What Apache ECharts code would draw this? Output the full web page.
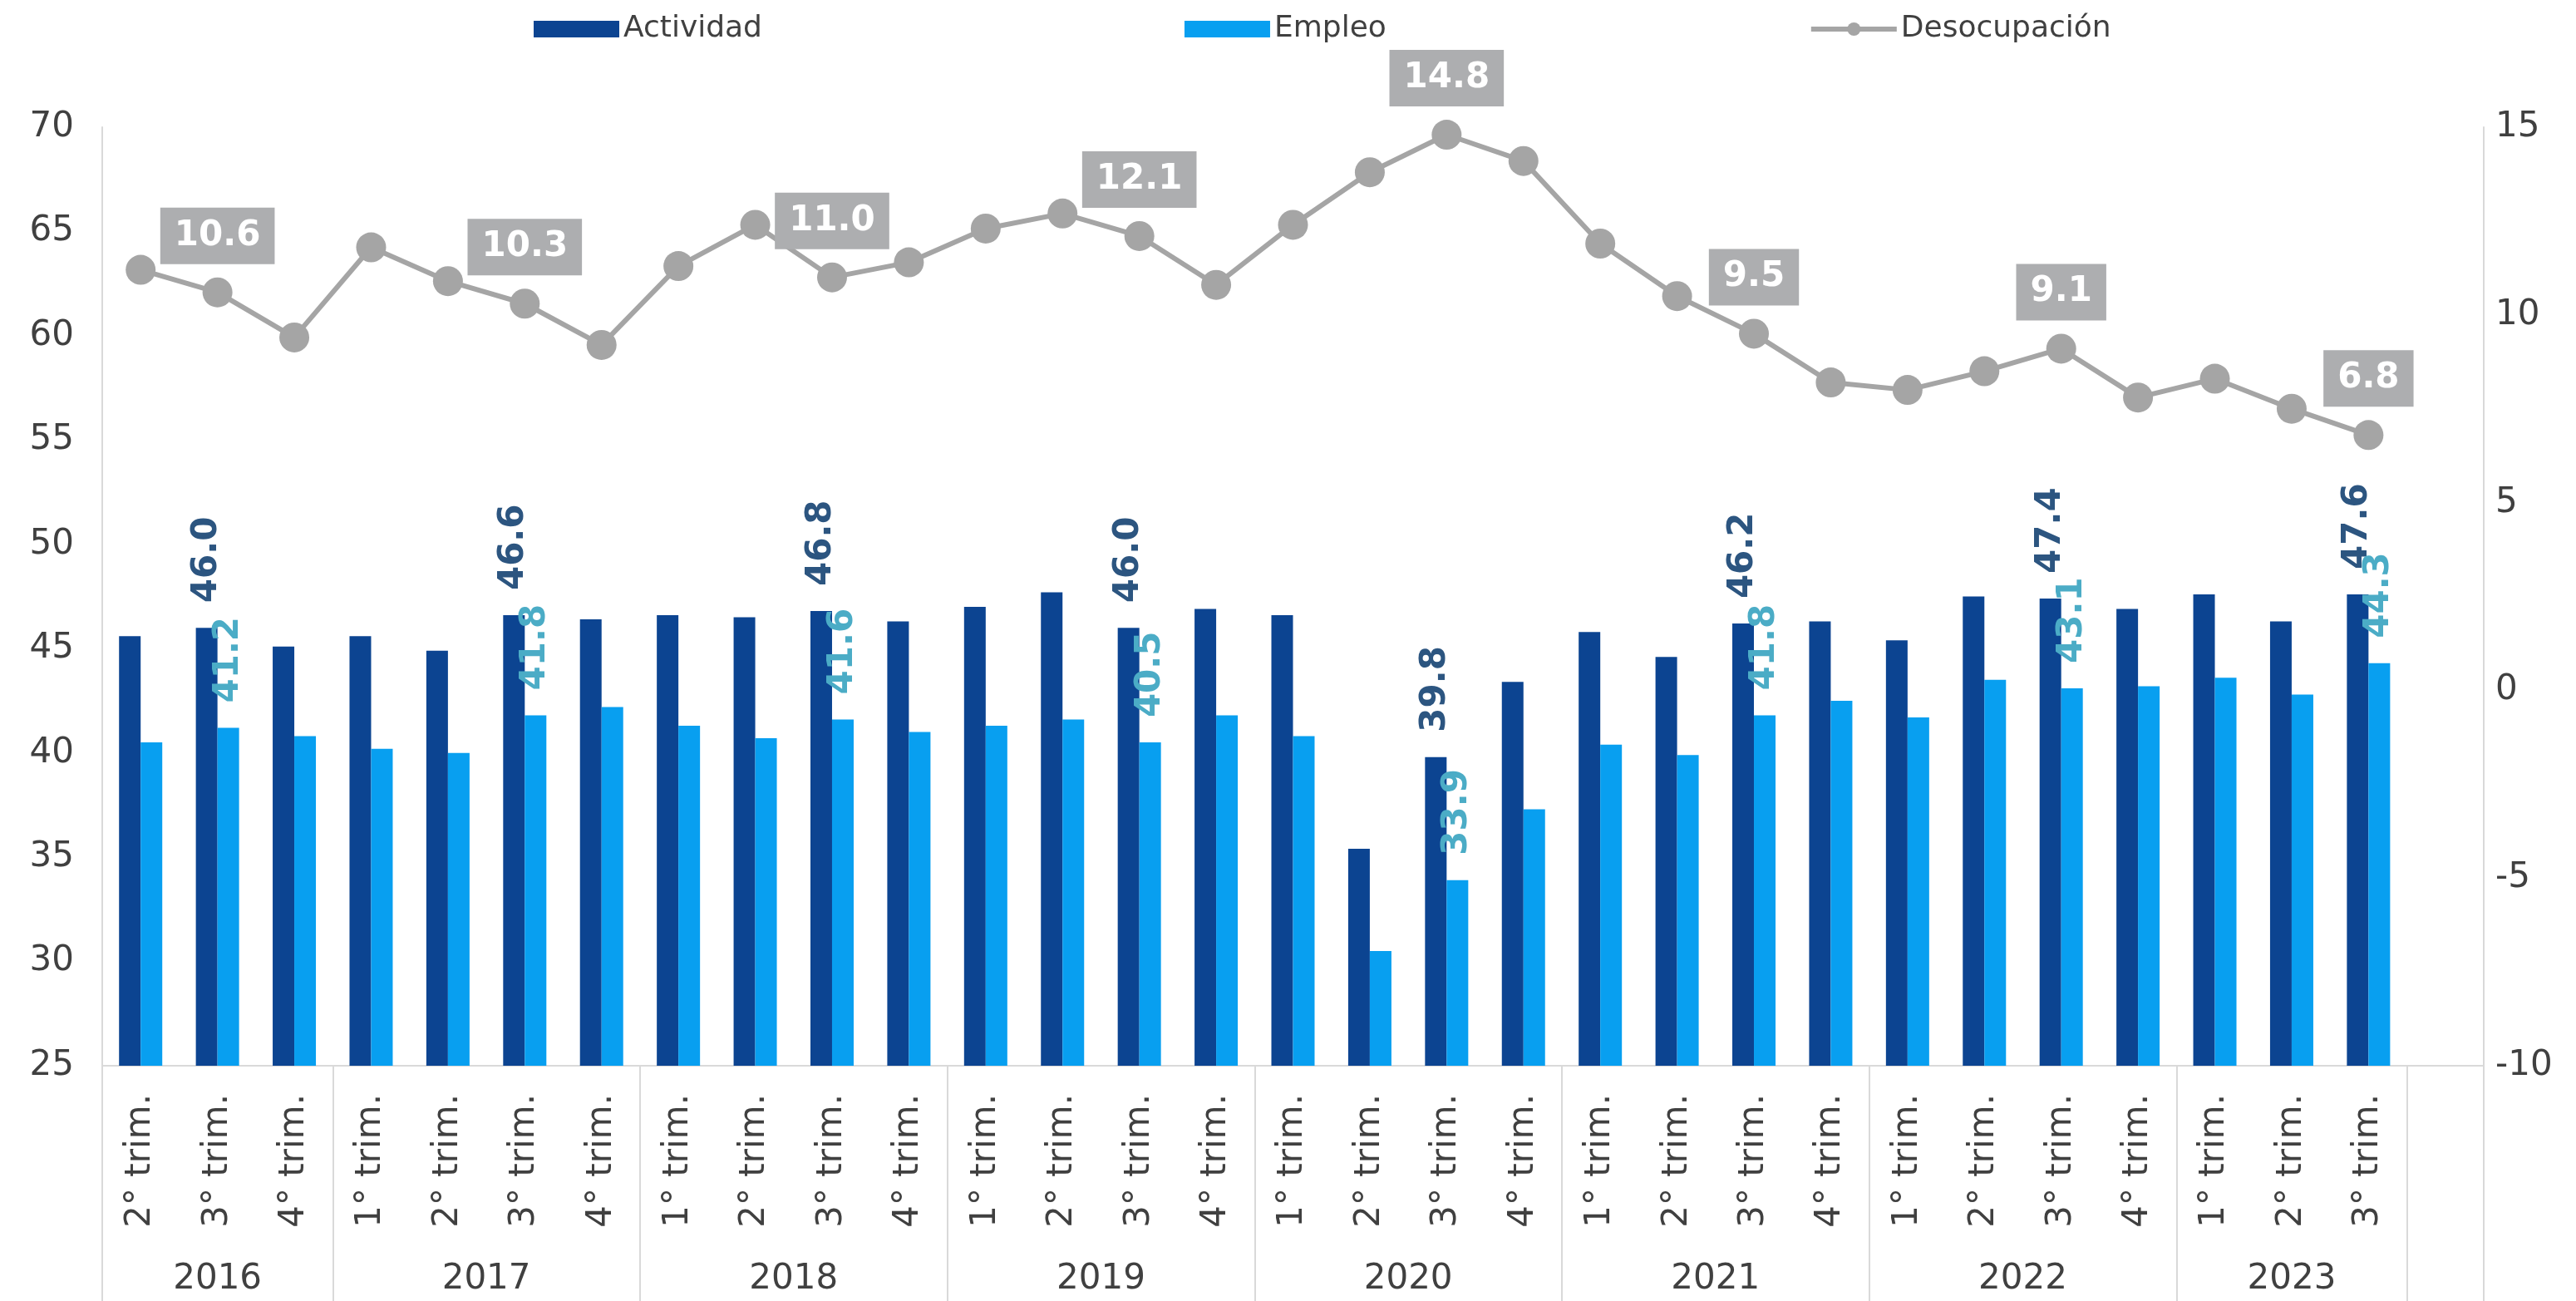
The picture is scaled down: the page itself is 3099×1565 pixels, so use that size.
<!DOCTYPE html>
<html>
<head>
<meta charset="utf-8">
<script src="https://cdn.jsdelivr.net/npm/echarts@6/dist/echarts.min.js"></script>
<style>
  html, body { margin: 0; padding: 0; background: #fff; }
  #chart { width: 3099px; height: 1565px; }
</style>
</head>
<body>
<div id="chart"></div>
<script>
// tasas trimestrales: actividad, empleo (eje izq.) y desocupación (eje der.)
var quarters = [
  '2° trim.', '3° trim.', '4° trim.',
  '1° trim.', '2° trim.', '3° trim.', '4° trim.',
  '1° trim.', '2° trim.', '3° trim.', '4° trim.',
  '1° trim.', '2° trim.', '3° trim.', '4° trim.',
  '1° trim.', '2° trim.', '3° trim.', '4° trim.',
  '1° trim.', '2° trim.', '3° trim.', '4° trim.',
  '1° trim.', '2° trim.', '3° trim.', '4° trim.',
  '1° trim.', '2° trim.', '3° trim.'
];
var years = ['2016', '2017', '2018', '2019', '2020', '2021', '2022', '2023'];
var quartersPerYear = [3, 4, 4, 4, 4, 4, 4, 3];

var actividad = [
  45.6, 46.0, 45.1,
  45.6, 44.9, 46.6, 46.4,
  46.6, 46.5, 46.8, 46.3,
  47.0, 47.7, 46.0, 46.9,
  46.6, 35.4, 39.8, 43.4,
  45.8, 44.6, 46.2, 46.3,
  45.4, 47.5, 47.4, 46.9,
  47.6, 46.3, 47.6
];
var empleo = [
  40.5, 41.2, 40.8,
  40.2, 40.0, 41.8, 42.2,
  41.3, 40.7, 41.6, 41.0,
  41.3, 41.6, 40.5, 41.8,
  40.8, 30.5, 33.9, 37.3,
  40.4, 39.9, 41.8, 42.5,
  41.7, 43.5, 43.1, 43.2,
  43.6, 42.8, 44.3
];
var desocupacion = [
  11.2, 10.6, 9.4,
  11.8, 10.9, 10.3, 9.2,
  11.3, 12.4, 11.0, 11.4,
  12.3, 12.7, 12.1, 10.8,
  12.4, 13.8, 14.8, 14.1,
  11.9, 10.5, 9.5, 8.2,
  8.0, 8.5, 9.1, 7.8,
  8.3, 7.5, 6.8
];
// puntos con etiqueta: el 3° trimestre de cada año
var labeled = [1, 5, 9, 13, 17, 21, 25, 29];

var ink = '#404040';
var rule = '#D9D9D9';
var font = 'DejaVu Sans';

// una posición vacía al final del eje, como en el original
var slots = quarters.concat(['']);

// eje de años en medias posiciones: bordes y centros de cada grupo
var halfSlots = [];
for (var h = 0; h <= slots.length * 2; h++) halfSlots.push('');
var yearBounds = [0];
var start = 0;
quartersPerYear.forEach(function (n, k) {
  var end = start + n;
  halfSlots[start + end] = years[k];
  yearBounds.push(end * 2);
  start = end;
});
yearBounds.push(slots.length * 2);

function withLabels(values) {
  return values.map(function (v, i) {
    return labeled.indexOf(i) >= 0 ? { value: v, label: { show: true } } : v;
  });
}

var chart = echarts.init(document.getElementById('chart'), null, { renderer: 'canvas' });
chart.setOption({
  animation: false,
  textStyle: { fontFamily: font },
  legend: {
    left: 637,
    top: 12,
    itemWidth: 103,
    itemHeight: 20,
    itemGap: 508,
    textStyle: { color: ink, fontSize: 36, fontFamily: font },
    data: [
      { name: 'Actividad', icon: 'rect' },
      { name: 'Empleo', icon: 'rect' },
      { name: 'Desocupación', lineStyle: { width: 6 } }
    ]
  },
  grid: { left: 123, right: 111, top: 153, bottom: 283 },
  xAxis: [{
    type: 'category',
    data: slots,
    axisLine: { onZero: false, lineStyle: { color: rule, width: 2 } },
    axisTick: { show: false },
    axisLabel: { color: ink, fontSize: 42, fontFamily: font, rotate: 90, interval: 0, margin: 34 }
  }, {
    type: 'category',
    data: halfSlots,
    boundaryGap: false,
    position: 'bottom',
    axisLine: { show: false, onZero: false },
    axisTick: {
      show: true,
      length: 290,
      interval: function (i) { return yearBounds.indexOf(i) >= 0; },
      lineStyle: { color: rule, width: 2 }
    },
    axisLabel: { color: ink, fontSize: 42, fontFamily: font, interval: 0, margin: 236 }
  }],
  yAxis: [{
    type: 'value',
    min: 25,
    max: 70,
    interval: 5,
    axisLine: { show: true, onZero: false, lineStyle: { color: rule, width: 2 } },
    axisTick: { show: false },
    splitLine: { show: false },
    axisLabel: { color: ink, fontSize: 42, fontFamily: font, margin: 34 }
  }, {
    type: 'value',
    min: -10,
    max: 15,
    interval: 5,
    position: 'right',
    axisLine: { show: true, onZero: false, lineStyle: { color: rule, width: 2 } },
    axisTick: { show: false },
    splitLine: { show: false },
    axisLabel: { color: ink, fontSize: 42, fontFamily: font, margin: 14 }
  }],
  series: [{
    name: 'Actividad',
    type: 'bar',
    barWidth: 26,
    barGap: '0%',
    itemStyle: { color: '#0C4491' },
    label: {
      show: false,
      position: 'top',
      distance: 30,
      rotate: 90,
      align: 'left',
      verticalAlign: 'middle',
      color: '#2C5580',
      fontSize: 42,
      fontWeight: 'bold',
      fontFamily: font,
      formatter: function (p) { return p.value.toFixed(1); }
    },
    data: withLabels(actividad)
  }, {
    name: 'Empleo',
    type: 'bar',
    barWidth: 26,
    barGap: '0%',
    itemStyle: { color: '#089FF0' },
    label: {
      show: false,
      position: 'top',
      distance: 30,
      rotate: 90,
      align: 'left',
      verticalAlign: 'middle',
      color: '#4BACC6',
      fontSize: 42,
      fontWeight: 'bold',
      fontFamily: font,
      formatter: function (p) { return p.value.toFixed(1); }
    },
    data: withLabels(empleo)
  }, {
    name: 'Desocupación',
    type: 'line',
    yAxisIndex: 1,
    symbol: 'circle',
    symbolSize: 36,
    z: 5,
    lineStyle: { color: '#A5A5A5', width: 6 },
    itemStyle: { color: '#A5A5A5' },
    label: {
      show: false,
      position: 'top',
      distance: 16,
      color: '#fff',
      fontSize: 42,
      fontWeight: 'bold',
      fontFamily: font,
      lineHeight: 44,
      backgroundColor: '#ADAEB0',
      padding: [12, 17],
      formatter: function (p) { return p.value.toFixed(1); }
    },
    data: withLabels(desocupacion)
  }]
});
window.addEventListener('resize', function () { chart.resize(); });
</script>
</body>
</html>
